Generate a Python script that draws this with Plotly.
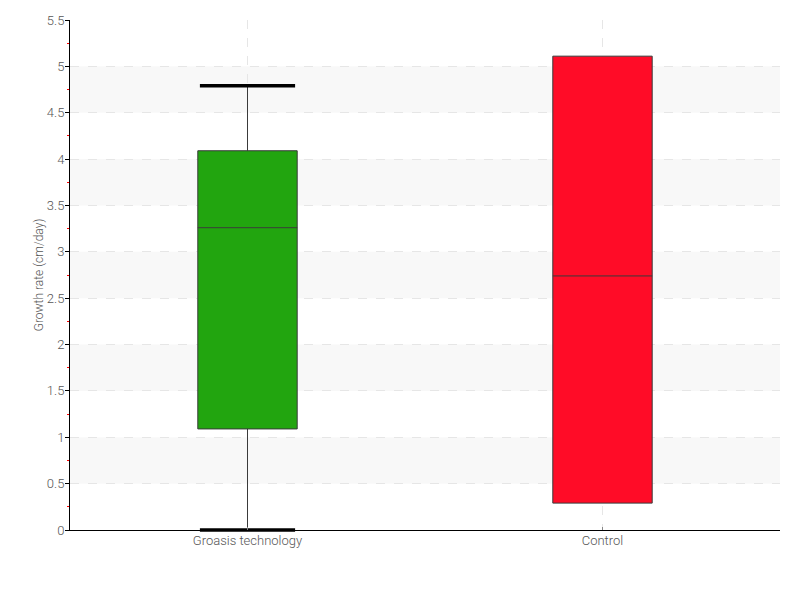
import plotly.graph_objects as go

categories = ["Groasis technology", "Control"]
lower_fence = [0.0, 0.29]
q1 = [1.09, 0.29]
median = [3.26, 2.74]
q3 = [4.09, 5.11]
upper_fence = [4.79, 5.11]
colors = ["#22a50f", "#ff0c27"]
band_ranges = [(0.5, 1.0), (1.5, 2.0), (2.5, 3.0), (3.5, 4.0), (4.5, 5.0)]

FONT = "Roboto, sans-serif"

fig = go.Figure()

for i, cat in enumerate(categories):
    fig.add_trace(go.Box(
        x=[cat], q1=[q1[i]], median=[median[i]], q3=[q3[i]],
        lowerfence=[lower_fence[i]], upperfence=[upper_fence[i]],
        fillcolor=colors[i], line=dict(color="#3a3a3a", width=1),
        width=0.28, whiskerwidth=0, showlegend=False, hoverinfo="skip",
    ))
    if upper_fence[i] > q3[i] or lower_fence[i] < q1[i]:
        fig.add_trace(go.Scatter(
            x=[cat, cat], y=[lower_fence[i], upper_fence[i]], mode="markers",
            marker=dict(symbol="line-ew-open", size=68, color="black",
                        line=dict(color="black", width=3.5)),
            showlegend=False, hoverinfo="skip", cliponaxis=False,
        ))

for lo, hi in band_ranges:
    fig.add_shape(type="rect", xref="paper", yref="y", x0=0, x1=1, y0=lo, y1=hi,
                  fillcolor="#f8f8f8", line_width=0, layer="below")

tfont = dict(family=FONT, size=13, color="#555555", weight=300)

fig.update_layout(
    width=800, height=600,
    margin=dict(l=62, r=28, t=12, b=78),
    paper_bgcolor="white", plot_bgcolor="white",
    font=dict(family=FONT, size=13, color="#555555"),
    xaxis=dict(
        type="category", range=[-0.5, 1.5], automargin=False,
        showline=True, linecolor="black", linewidth=1,
        showgrid=True, gridcolor="#e6e6e6", griddash="dash", gridwidth=1,
        ticks="inside", ticklen=3, tickcolor="#888888",
        tickfont=tfont, ticklabelstandoff=-2,
        zeroline=False,
    ),
    yaxis=dict(
        range=[0, 5.5], dtick=0.5, tick0=0, automargin=False,
        showline=True, linecolor="black", linewidth=1,
        showgrid=True, gridcolor="#e6e6e6", griddash="dash", gridwidth=1,
        ticks="outside", ticklen=4, tickcolor="black",
        tickfont=tfont, ticklabelstandoff=-2,
        zeroline=False,
        minor=dict(dtick=0.25, tick0=0, ticks="outside", ticklen=2, tickcolor="red", showgrid=False),
        title=dict(text="Growth rate (cm/day)", font=dict(family=FONT, size=12, color="#555555", weight=300), standoff=0),
    ),
)

fig.write_html("out.html")
